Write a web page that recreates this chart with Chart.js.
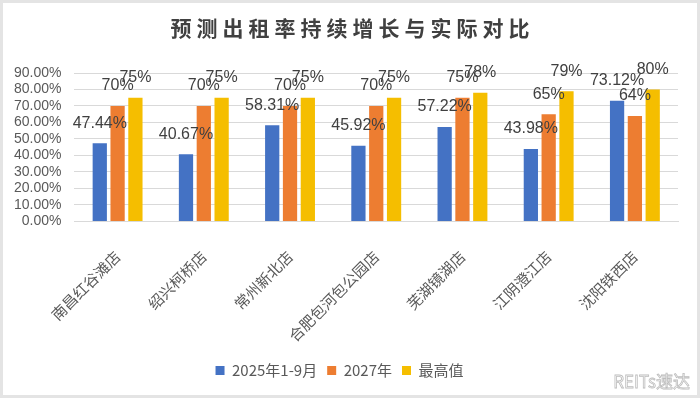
<!DOCTYPE html>
<html>
<head>
<meta charset="utf-8">
<script src="https://cdn.jsdelivr.net/npm/chart.js@4"></script>
<style>
  html, body { margin: 0; padding: 0; background: #fff; }
  #wrap { position: relative; width: 700px; height: 398px; }
  #frame { position: absolute; left: 0; top: 0; width: 694px; height: 392px; border: 3px solid #e4e4e4; pointer-events: none; }
  #title {
    position: absolute; left: 0; top: 12px; width: 700px; text-align: center;
    font: bold 21px "Noto Sans CJK SC", sans-serif; color: #404040; letter-spacing: 5px;
    padding-left: 5px; box-sizing: border-box;
  }
  #mark {
    position: absolute; right: 10px; bottom: 5px;
    font: 17px "Noto Sans CJK SC", sans-serif; color: #fff;
    -webkit-text-stroke: 0.8px #bdbdbd;
  }
</style>
</head>
<body>
<div id="wrap">
  <canvas id="rent-chart" width="700" height="398"></canvas>
  <div id="title">预测出租率持续增长与实际对比</div>
  <div id="mark">REITs速达</div>
  <div id="frame"></div>
</div>
<script>
// Data
const stores = ['南昌红谷滩店', '绍兴柯桥店', '常州新北店', '合肥包河包公园店', '芜湖镜湖店', '江阴澄江店', '沈阳铁西店'];
const actual2025 = [47.44, 40.67, 58.31, 45.92, 57.22, 43.98, 73.12];
const forecast2027 = [70, 70, 70, 70, 75, 65, 64];
const peakValue = [75, 75, 75, 75, 78, 79, 80];
const seriesNames = ['2025年1-9月', '2027年', '最高值'];

// Value labels above bars
const barLabels = {
    id: 'barLabels',
    afterDatasetsDraw(chart) {
        const ctx = chart.ctx;
        ctx.save();
        ctx.font = '16px "Liberation Sans", sans-serif';
        ctx.fillStyle = '#404040';
        ctx.textAlign = 'center';
        ctx.textBaseline = 'middle';
        chart.data.datasets.forEach((ds, i) => {
            chart.getDatasetMeta(i).data.forEach((bar, j) => {
                const v = ds.data[j];
                const txt = Number.isInteger(v) ? v + '%' : v.toFixed(2) + '%';
                ctx.fillText(txt, bar.x, bar.y - 20);
            });
        });
        ctx.restore();
    }
};

let rentChart;

function initializeChart() {
    const ctx = document.getElementById('rent-chart');
    rentChart = new Chart(ctx, {
        type: 'bar',
        data: {
            labels: stores,
            datasets: [
                { label: seriesNames[0], data: actual2025, backgroundColor: '#4472C4' },
                { label: seriesNames[1], data: forecast2027, backgroundColor: '#ED7D31' },
                { label: seriesNames[2], data: peakValue, backgroundColor: '#F5BE00' }
            ]
        },
        options: {
            responsive: false,
            animation: false,
            categoryPercentage: 0.62,
            barPercentage: 0.8,
            layout: { padding: { top: 73, left: 1, right: 22, bottom: 10 } },
            plugins: {
                legend: {
                    position: 'bottom',
                    labels: {
                        boxWidth: 9,
                        boxHeight: 9,
                        padding: 10,
                        color: '#595959',
                        font: { size: 15, family: '"Noto Sans CJK SC", sans-serif' }
                    }
                },
                tooltip: { enabled: false }
            },
            scales: {
                x: {
                    grid: { display: false },
                    border: { color: '#d9d9d9' },
                    ticks: {
                        minRotation: 45,
                        maxRotation: 45,
                        autoSkip: false,
                        padding: 18,
                        color: '#595959',
                        font: { size: 15, family: '"Noto Sans CJK SC", sans-serif' }
                    },
                    afterFit(scale) {
                        scale.paddingLeft = 0;
                        scale.paddingRight = 0;
                        scale.height -= 10;
                    }
                },
                y: {
                    min: 0,
                    max: 90,
                    grid: { color: '#d9d9d9', drawTicks: false },
                    border: { display: false },
                    ticks: {
                        stepSize: 10,
                        autoSkip: false,
                        padding: 13,
                        color: '#595959',
                        font: { size: 14, family: '"Liberation Sans", sans-serif' },
                        callback: v => v.toFixed(2) + '%'
                    }
                }
            }
        },
        plugins: [barLabels]
    });
}

document.addEventListener('DOMContentLoaded', initializeChart);
</script>
</body>
</html>
